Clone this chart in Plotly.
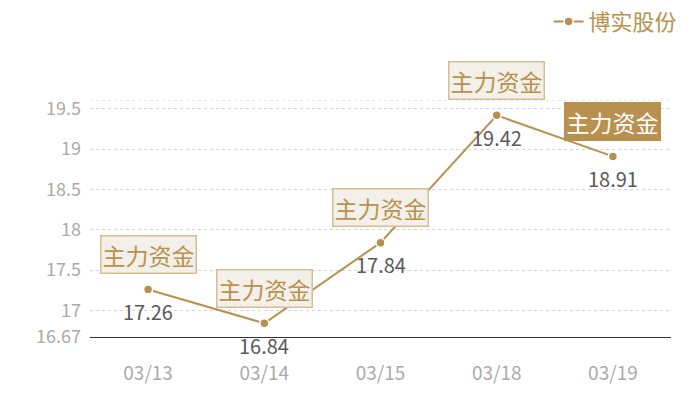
import plotly.graph_objects as go

# data
dates = ["03/13", "03/14", "03/15", "03/18", "03/19"]
prices = [17.26, 16.84, 17.84, 19.42, 18.91]
flags = ["主力资金", "主力资金", "主力资金", "主力资金", "主力资金"]
highlight = [False, False, False, False, True]
y_ticks = [16.67, 17, 17.5, 18, 18.5, 19, 19.5]
y_min, y_max = 16.67, 19.61

gold = "#b8914f"
font_family = "Noto Sans CJK SC, Noto Sans, sans-serif"

fig = go.Figure()

fig.add_trace(go.Scatter(
    x=dates,
    y=prices,
    mode="lines+markers",
    name="博实股份",
    line=dict(color=gold, width=2),
    marker=dict(size=9, color=gold, line=dict(color="white", width=1.5)),
    cliponaxis=False,
))

for d, v, label, hl in zip(dates, prices, flags, highlight):
    # value under the point
    fig.add_annotation(
        x=d, y=v,
        text=f"{v:.2f}",
        showarrow=False,
        yshift=-22,
        font=dict(size=20, color="#5a5a5a", family=font_family),
    )
    # "主力资金" tag above the point
    fig.add_annotation(
        x=d, y=v,
        text=label,
        showarrow=False,
        yshift=35,
        font=dict(size=23, color="white" if hl else gold, family=font_family),
        bgcolor=gold if hl else "#f3efe9",
        bordercolor=gold if hl else "#d6bd94",
        borderwidth=1.5,
        borderpad=1,
    )

# dashed line at the top of the plot area
fig.add_shape(type="line", xref="paper", yref="y", x0=0, x1=1, y0=y_max, y1=y_max,
              line=dict(color="#d3d3d3", width=1, dash="dot"))

fig.update_layout(
    width=692,
    height=392,
    margin=dict(l=82, r=29, t=92, b=63, autoexpand=False),
    paper_bgcolor="white",
    plot_bgcolor="white",
    font=dict(family=font_family),
    showlegend=True,
    legend=dict(
        orientation="h",
        x=1.02, xanchor="right",
        y=1.33, yanchor="middle",
        font=dict(size=22, color=gold, family=font_family),
        itemwidth=30,
    ),
    xaxis=dict(
        type="category",
        range=[-0.5, len(dates) - 0.5],
        showgrid=False,
        showline=True,
        linecolor="#333333",
        linewidth=1,
        ticks="",
        tickfont=dict(size=19, color="#aaaaaa"),
        ticklabelstandoff=19,
        automargin=False,
    ),
    yaxis=dict(
        range=[y_min, y_max],
        tickvals=y_ticks,
        ticktext=[str(t) for t in y_ticks],
        showgrid=True,
        gridcolor="#d3d3d3",
        griddash="dot",
        gridwidth=1,
        zeroline=False,
        showline=False,
        tickfont=dict(size=18, color="#aaaaaa"),
        ticklabelstandoff=8,
        automargin=False,
    ),
)

fig.write_html("out.html")
